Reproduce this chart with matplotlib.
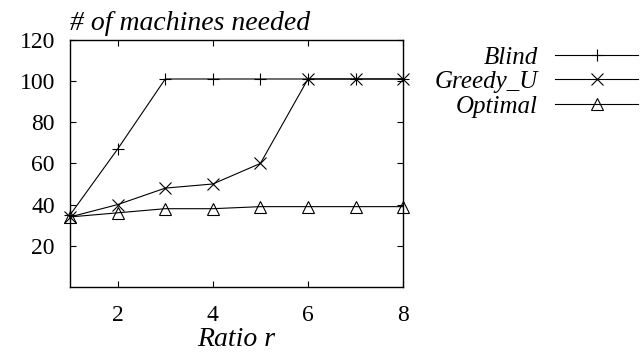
import matplotlib.pyplot as plt

plt.rcParams['font.family'] = ['Liberation Serif', 'DejaVu Serif']

ratio = [1, 2, 3, 4, 5, 6, 7, 8]
blind = [35, 67, 101, 101, 101, 101, 101, 101]
greedy_u = [34, 40, 48, 50, 60, 101, 101, 101]
optimal = [34, 36, 38, 38, 39, 39, 39, 39]

names = ['Blind', 'Greedy_U', 'Optimal']
markers = ['+', 'x', '^']

fig = plt.figure(figsize=(6.43, 3.56), dpi=100)
ax = fig.add_axes([0.109, 0.194, 0.518, 0.694])

for ys, nm, mk in zip([blind, greedy_u, optimal], names, markers):
    ax.plot(ratio, ys, color='k', lw=0.8, marker=mk, markersize=9 if mk != '^' else 8.5,
            markerfacecolor='none', markeredgecolor='k', markeredgewidth=0.8,
            label=nm, clip_on=False)

ax.set_xlim(1, 8)
ax.set_ylim(0, 120)
ax.set_xticks([2, 4, 6, 8])
ax.set_yticks([20, 40, 60, 80, 100, 120])
ax.tick_params(direction='in', top=True, right=True, labelsize=17, length=4, width=0.8)
ax.tick_params(axis='x', pad=13)
ax.tick_params(axis='y', pad=11)
for s in ax.spines.values():
    s.set_linewidth(1.0)

ax.set_xlabel('Ratio r', style='italic', fontsize=20, labelpad=1)
ax.text(0.0, 1.04, '# of machines needed', transform=ax.transAxes, style='italic',
        fontsize=20, ha='left', va='baseline')

ax.legend(loc='upper right', bbox_to_anchor=(0.992, 1 - 46 / 356), bbox_transform=fig.transFigure,
          frameon=False, markerfirst=False, handlelength=3.3, handletextpad=0.7,
          labelspacing=0.08, borderpad=0, borderaxespad=0, prop={'style': 'italic', 'size': 18})

fig.savefig('out.png', dpi=100)
